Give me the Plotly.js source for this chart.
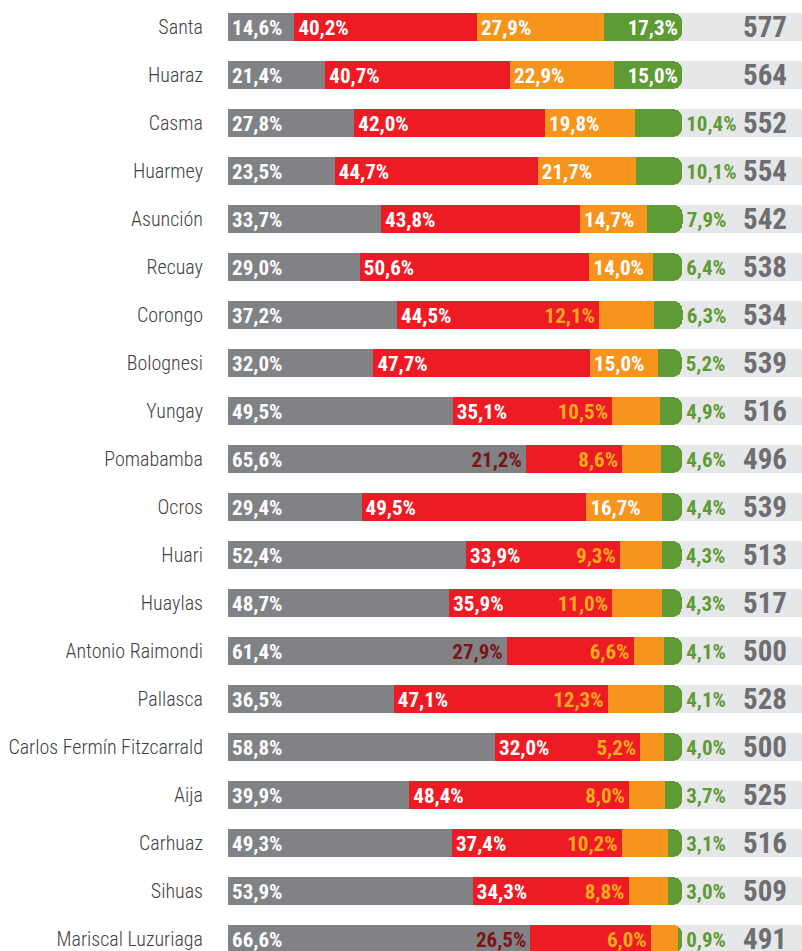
<!DOCTYPE html>
<html>
<head>
<meta charset="utf-8">
<script src="https://cdn.plot.ly/plotly-3.0.1.min.js"></script>
<style>
html,body{margin:0;padding:0;background:#fff;}
#chart{width:802px;height:951px;}
</style>
</head>
<body>
<div id="chart"></div>
<script>
const categories = ["Santa","Huaraz","Casma","Huarmey","Asunción","Recuay","Corongo","Bolognesi","Yungay","Pomabamba","Ocros","Huari","Huaylas","Antonio Raimondi","Pallasca","Carlos Fermín Fitzcarrald","Aija","Carhuaz","Sihuas","Mariscal Luzuriaga"];
const grayVals   = [14.6,21.4,27.8,23.5,33.7,29.0,37.2,32.0,49.5,65.6,29.4,52.4,48.7,61.4,36.5,58.8,39.9,49.3,53.9,66.6];
const redVals    = [40.2,40.7,42.0,44.7,43.8,50.6,44.5,47.7,35.1,21.2,49.5,33.9,35.9,27.9,47.1,32.0,48.4,37.4,34.3,26.5];
const orangeVals = [27.9,22.9,19.8,21.7,14.7,14.0,12.1,15.0,10.5,8.6,16.7,9.3,11.0,6.6,12.3,5.2,8.0,10.2,8.8,6.0];
const greenVals  = [17.3,15.0,10.4,10.1,7.9,6.4,6.3,5.2,4.9,4.6,4.4,4.3,4.3,4.1,4.1,4.0,3.7,3.1,3.0,0.9];
const totals     = [577,564,552,554,542,538,534,539,516,496,539,513,517,500,528,500,525,516,509,491];

const XMAX = 126.4;     // axis extent (percent units)
const TOTAL_X = 123.1;  // right edge of total labels
const PAD = 0.9;

const C = {gray:'#808285', red:'#ed1c24', orange:'#f7941d', green:'#5f9b35', bg:'#e6e7e8',
           darkred:'#7b1416', orangeTxt:'#fbab1c', greenTxt:'#5f9b35', total:'#6d6e71', cat:'#414042'};
const FONT = '"Roboto Condensed","Liberation Sans Narrow","Arial Narrow","DejaVu Sans Condensed",sans-serif';

const fmt = v => v.toFixed(1).replace('.', ',') + '%';
const redBase = grayVals.slice();
const orangeBase = grayVals.map((g,i)=>g+redVals[i]);
const greenBase = orangeBase.map((b,i)=>b+orangeVals[i]);
const ends = greenBase.map((b,i)=>b+greenVals[i]);

const W = 0.58;
const traces = [];
// background track (base subplot)
traces.push({type:'bar', orientation:'h', y:categories, x:categories.map(()=>XMAX+10),
  marker:{color:C.bg, cornerradius:0}, width:W, hoverinfo:'skip', xaxis:'x', yaxis:'y'});
// stacked segments (overlaying subplot)
[[grayVals,C.gray],[redVals,C.red],[orangeVals,C.orange],[greenVals,C.green]].forEach(([vals,col])=>{
  traces.push({type:'bar', orientation:'h', y:categories, x:vals, marker:{color:col},
    width:W, xaxis:'x2', yaxis:'y'});
});

function textTrace(xs, texts, pos, colors, size){
  return {type:'scatter', mode:'text', y:categories, x:xs, text:texts, textposition:pos,
    textfont:{family:FONT, size:size, color:colors, weight:700}, hoverinfo:'skip',
    cliponaxis:false, xaxis:'x2', yaxis:'y2'};
}
traces.push(textTrace(grayVals.map(()=>PAD), grayVals.map(fmt), 'middle right', '#ffffff', 21));
traces.push(textTrace(
  redVals.map((r,i)=> r<30 ? redBase[i]-PAD : redBase[i]+PAD),
  redVals.map(fmt),
  redVals.map(r=> r<30 ? 'middle left':'middle right'),
  redVals.map(r=> r<30 ? C.darkred : '#ffffff'), 21));
traces.push(textTrace(
  orangeVals.map((o,i)=> o>=13.5 ? orangeBase[i]+PAD : orangeBase[i]-PAD),
  orangeVals.map(fmt),
  orangeVals.map(o=> o>=13.5 ? 'middle right':'middle left'),
  orangeVals.map(o=> o>=13.5 ? '#ffffff' : C.orangeTxt), 21));
traces.push(textTrace(
  greenVals.map((g,i)=> g>=15 ? ends[i]-PAD : ends[i]+PAD),
  greenVals.map(fmt),
  greenVals.map(g=> g>=15 ? 'middle left':'middle right'),
  greenVals.map(g=> g>=15 ? '#ffffff' : C.greenTxt), 21));
traces.push(textTrace(totals.map(()=>TOTAL_X), totals.map(String), 'middle left', C.total, 29));

const YR = [19.25, -0.5625];
const SHIFT = 0.06;
const layout = {
  width:802, height:951,
  margin:{l:228, r:0, t:0, b:0, pad:0},
  paper_bgcolor:'#ffffff', plot_bgcolor:'#ffffff',
  barmode:'stack', barcornerradius:9, showlegend:false,
  xaxis:{range:[0,XMAX], visible:false, fixedrange:true},
  xaxis2:{range:[0,XMAX], visible:false, overlaying:'x', fixedrange:true},
  yaxis:{type:'category', categoryorder:'array', categoryarray:categories,
    range:YR, showgrid:false, zeroline:false, showline:false, ticks:'',
    ticklabelstandoff:24,
    tickfont:{family:FONT, size:20, color:C.cat, weight:300}},
  yaxis2:{type:'category', categoryorder:'array', categoryarray:categories,
    range:[YR[0]-SHIFT, YR[1]-SHIFT], overlaying:'y', visible:false},
};
Plotly.newPlot('chart', traces, layout, {displayModeBar:false, staticPlot:true});
</script>
</body>
</html>
